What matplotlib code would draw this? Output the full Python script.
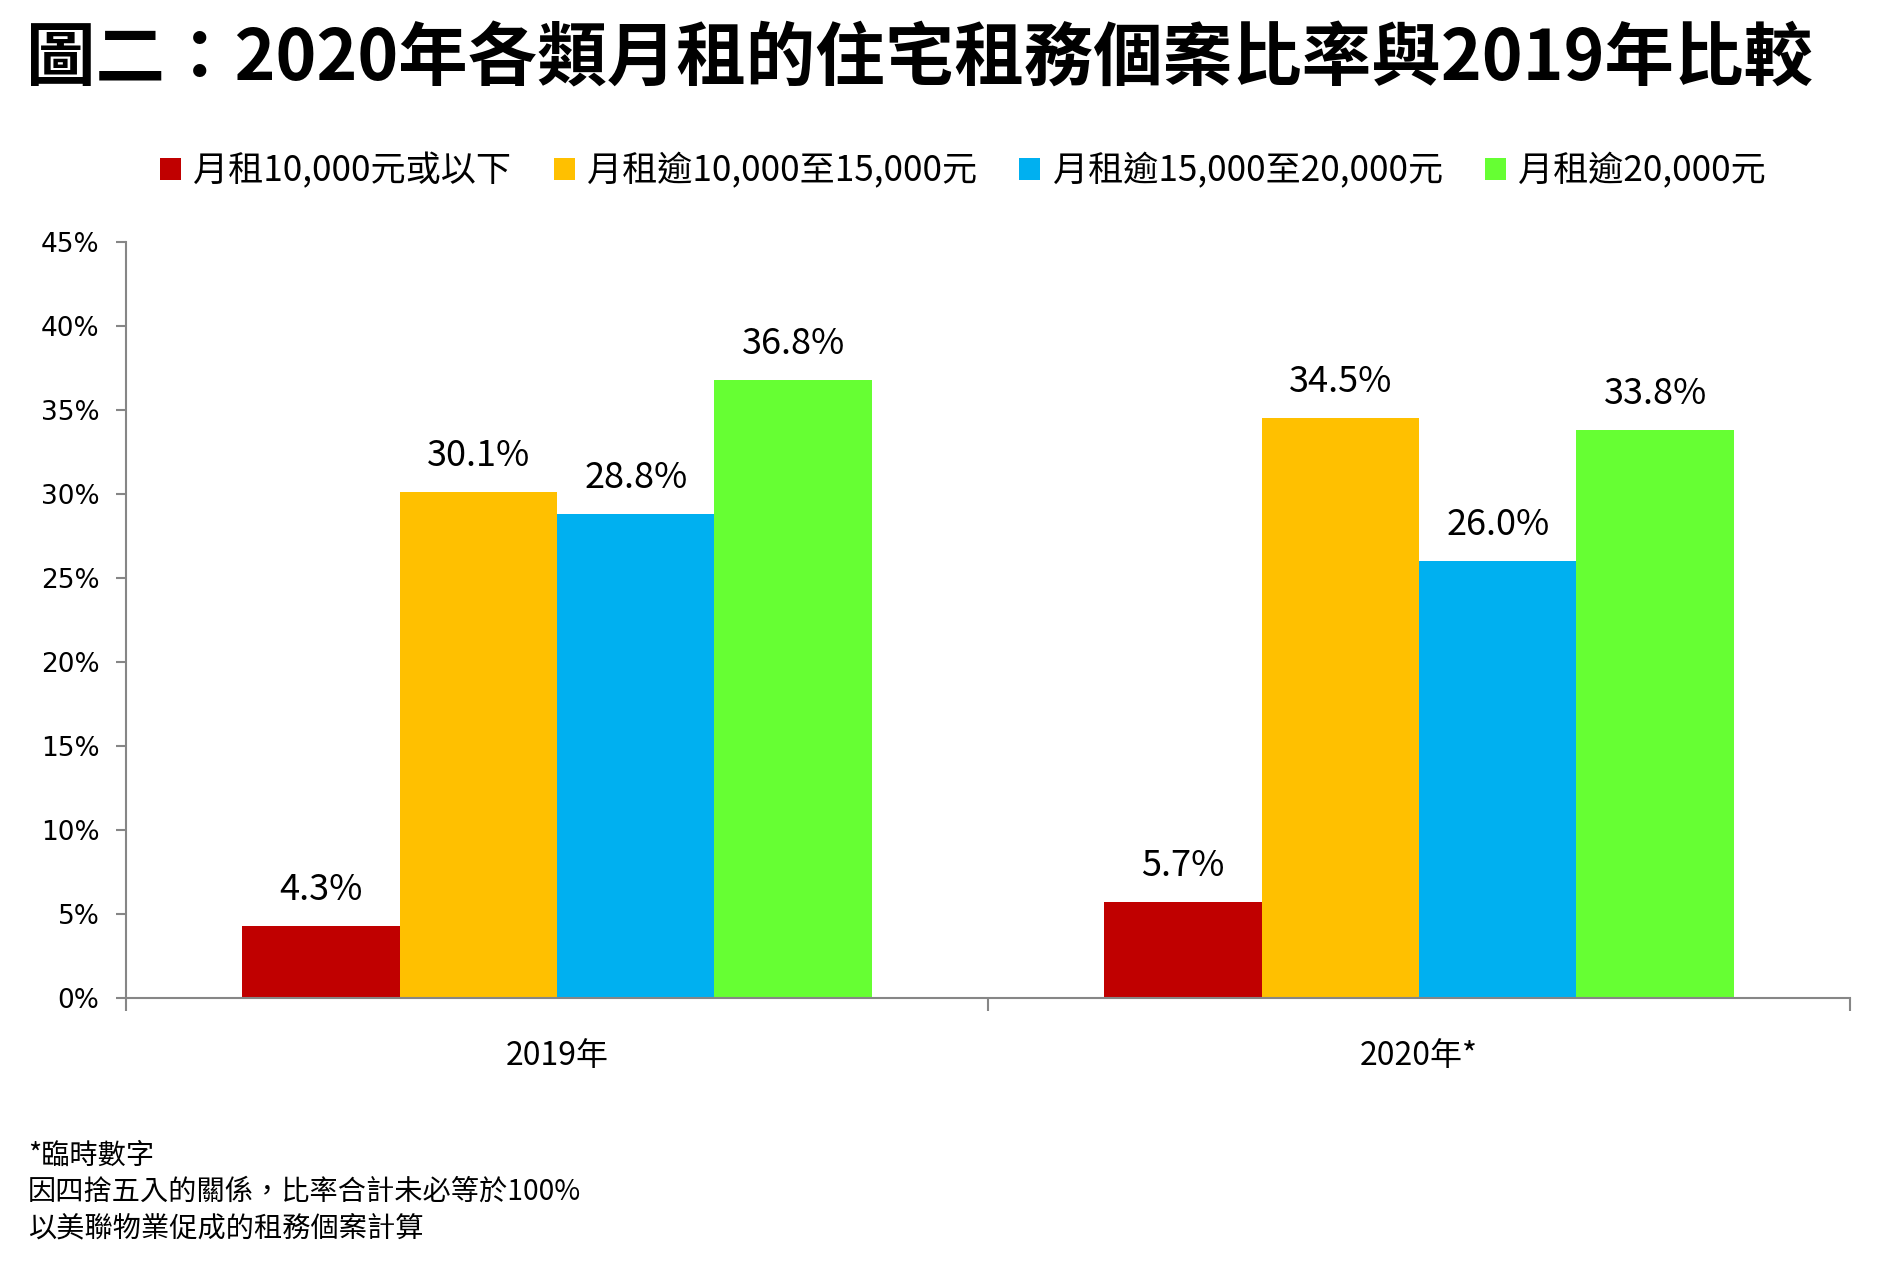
import matplotlib
matplotlib.use("Agg")
import matplotlib.pyplot as plt
from matplotlib.patches import Patch
import numpy as np

plt.rcParams['font.family'] = ['Noto Sans CJK TC', 'DejaVu Sans']

# ---- data ----
categories = ["2019年", "2020年*"]
series_names = ["月租10,000元或以下", "月租逾10,000至15,000元", "月租逾15,000至20,000元", "月租逾20,000元"]
s_le10k = [4.3, 5.7]
s_10_15k = [30.1, 34.5]
s_15_20k = [28.8, 26.0]
s_gt20k = [36.8, 33.8]
yticks = [0, 5, 10, 15, 20, 25, 30, 35, 40, 45]
title = "圖二：2020年各類月租的住宅租務個案比率與2019年比較"
footnotes = ["*臨時數字", "因四捨五入的關係，比率合計未必等於100%", "以美聯物業促成的租務個案計算"]

colors = ["#C00000", "#FFC000", "#00B0F0", "#66FF33"]
series = [s_le10k, s_10_15k, s_15_20k, s_gt20k]

W, H = 1878, 1267
fig = plt.figure(figsize=(W / 100, H / 100), dpi=100)
ax = fig.add_axes([126 / W, 1 - 998 / H, (1850 - 126) / W, (998 - 242) / H])

x = np.arange(len(categories))
bw = 0.1827
for i, (vals, c) in enumerate(zip(series, colors)):
    off = (i - 1.5) * bw
    bars = ax.bar(x + off, vals, width=bw, color=c, edgecolor='none', zorder=2)
    for b, v in zip(bars, vals):
        ax.annotate(f"{v:.1f}%", (b.get_x() + b.get_width() / 2, v),
                    xytext=(0, 26), textcoords='offset points',
                    ha='center', va='center', fontsize=26, color='black')

ax.set_xlim(-0.5, len(categories) - 0.5)
ax.set_ylim(0, 45)
ax.set_yticks(yticks)
ax.set_yticklabels([f"{t}%" for t in yticks], family='DejaVu Sans', fontsize=19)
ax.set_xticks(x)
ax.set_xticklabels(categories, fontsize=23)
ax.set_xticks(np.arange(-0.5, len(categories)), minor=True)

axis_col = "#868686"
for s in ['top', 'right']:
    ax.spines[s].set_visible(False)
for s in ['left', 'bottom']:
    ax.spines[s].set_color(axis_col)
    ax.spines[s].set_linewidth(1.5)
ax.tick_params(axis='y', length=7, width=1.5, color=axis_col, pad=12)
ax.tick_params(axis='x', which='major', length=0, pad=30)
ax.tick_params(axis='x', which='minor', length=9, width=1.5, color=axis_col)

fig.text(26 / W, 1 - 60 / H, title, fontsize=50, fontweight='bold', ha='left', va='center')

handles = [Patch(facecolor=c, edgecolor='none') for c in colors]
fig.legend(handles, series_names, loc='center', bbox_to_anchor=(963 / W, 1 - 171 / H),
           ncol=4, frameon=False, fontsize=25.3, handlelength=0.6, handleheight=0.6,
           handletextpad=0.35, columnspacing=1.2)

for i, t in enumerate(footnotes):
    fig.text(28 / W, 1 - (1156 + 36 * i) / H, t, fontsize=20.3, ha='left', va='center')

fig.savefig("out.png", dpi=100)
